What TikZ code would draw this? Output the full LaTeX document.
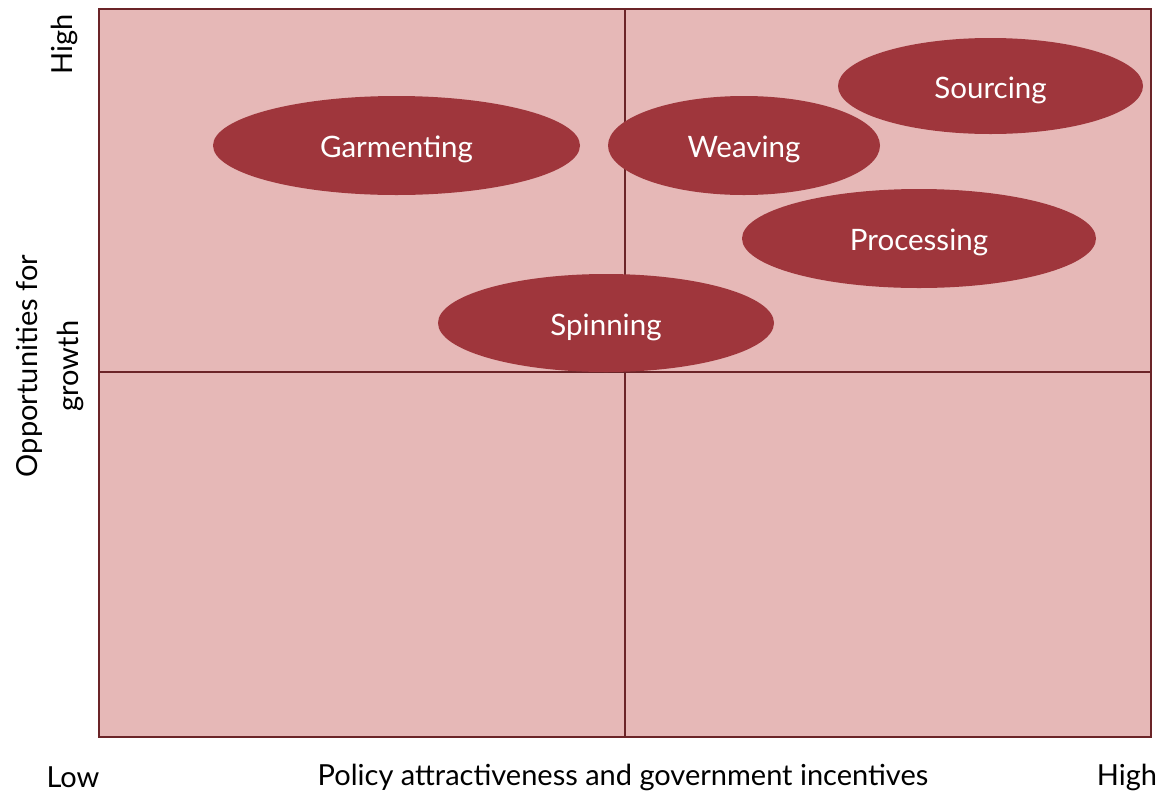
\documentclass[tikz,border=0pt]{standalone}
\usepackage{fontspec}
\setmainfont{Lato}
\usetikzlibrary{shapes.geometric}
\definecolor{bgfill}{HTML}{E6B8B7}
\definecolor{linecol}{HTML}{6B2428}
\definecolor{ellfill}{HTML}{9F363C}
\tikzset{
  blob/.style={ellipse, fill=ellfill, draw=none, text=white, inner sep=0pt, text height=30pt, text depth=6pt, font=\fontsize{29.5}{34}\selectfont},
  axislab/.style={text=black, font=\fontsize{29}{41}\selectfont, inner sep=0pt},
}
\begin{document}
\begin{tikzpicture}[x=1pt,y=-1pt]
\useasboundingbox (0,0) rectangle (1161,793);
\fill[bgfill] (99,9) rectangle (1151,737);
\coordinate (tm) at (625,9);
\coordinate (bm) at (625,737);
\coordinate (lm) at (99,372);
\coordinate (rm) at (1151,372);
\draw[linecol, line width=2pt] (tm) -- (bm);
\draw[linecol, line width=2pt] (lm) -- (rm);
\draw[linecol, line width=2.2pt] (99,9) rectangle (1151,737);
\node[blob, minimum width=367pt, minimum height=99pt] (garm) at (396.5,145.5) {Garmenting};
\node[blob, minimum width=272pt, minimum height=99pt] (weav) at (744,145.5) {Weaving};
\node[blob, minimum width=305pt, minimum height=96pt] (sour) at (990.5,86) {Sourcing};
\node[blob, minimum width=354pt, minimum height=99pt] (proc) at (919,238.5) {Processing};
\node[blob, minimum width=336pt, minimum height=98pt] (spin) at (606,323) {Spinning};
\node[axislab, rotate=90] (yhigh) at (64,44) {High};
\node[axislab, rotate=90, align=center] (ylab) at (50,366) {Opportunities for\\growth};
\node[axislab] (xlow) at (73,777) {Low};
\node[axislab] (xlab) at (623,777) {Policy attractiveness and government incentives};
\node[axislab] (xhigh) at (1127,777) {High};
\end{tikzpicture}
\end{document}
